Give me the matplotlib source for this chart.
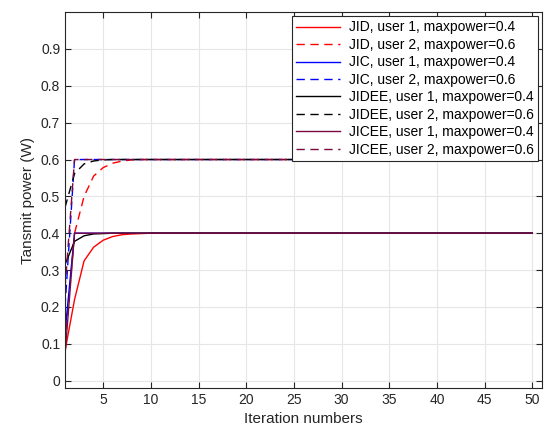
import numpy as np
import matplotlib.pyplot as plt

plt.rcParams['font.family'] = ['Liberation Sans', 'DejaVu Sans']

iters = np.arange(1, 51)

# transmit power per iteration (W), settles at the per-user max power
jid_u1 = [0.08, 0.22, 0.325, 0.362, 0.381, 0.391, 0.396, 0.398, 0.399] + [0.4] * 41
jid_u2 = [0.10, 0.40, 0.50, 0.555, 0.578, 0.590, 0.596, 0.599] + [0.6] * 42
jic_u1 = [0.13] + [0.4] * 49
jic_u2 = [0.20] + [0.6] * 49
jidee_u1 = [0.315, 0.378, 0.393, 0.398, 0.399] + [0.4] * 45
jidee_u2 = [0.47, 0.562, 0.588, 0.596, 0.599] + [0.6] * 45
jicee_u1 = [0.07] + [0.4] * 49
jicee_u2 = [0.25] + [0.6] * 49

series = [
    (jid_u1, 'r-', 'JID, user 1, maxpower=0.4'),
    (jid_u2, 'r--', 'JID, user 2, maxpower=0.6'),
    (jic_u1, 'b-', 'JIC, user 1, maxpower=0.4'),
    (jic_u2, 'b--', 'JIC, user 2, maxpower=0.6'),
    (jidee_u1, 'k-', 'JIDEE, user 1, maxpower=0.4'),
    (jidee_u2, 'k--', 'JIDEE, user 2, maxpower=0.6'),
    (jicee_u1, '-', 'JICEE, user 1, maxpower=0.4'),
    (jicee_u2, '--', 'JICEE, user 2, maxpower=0.6'),
]

fig = plt.figure(figsize=(5.59, 4.33), dpi=100)
ax = fig.add_axes([0.1163, 0.104, 0.853, 0.868])

for vals, style, name in series:
    kw = {}
    if 'JICEE' in name:
        kw['color'] = '#7a0a3e'
    ax.plot(iters, vals, style, linewidth=1.0, label=name, dashes=(6, 4) if '--' in style else (None, None), **kw)

ax.set_xlim(1, 51)
ax.set_ylim(-0.02, 1.0)
ax.set_xticks(np.arange(5, 51, 5))
ax.set_yticks(np.arange(0, 0.91, 0.1))
ax.set_yticklabels(['0', '0.1', '0.2', '0.3', '0.4', '0.5', '0.6', '0.7', '0.8', '0.9'])
ax.tick_params(direction='in', top=True, right=True, labelsize=10, colors='#262626', length=4, width=0.8)
ax.grid(True, color='#e6e6e6', linewidth=0.8)
ax.set_axisbelow(True)
for s in ax.spines.values():
    s.set_color('#262626')
    s.set_linewidth(0.8)

ax.set_xlabel('Iteration numbers', fontsize=11, color='#262626')
ax.set_ylabel('Tansmit power (W)', fontsize=11, color='#262626')

leg = ax.legend(loc='upper right', fontsize=10, handlelength=3.2, handletextpad=0.6,
                labelspacing=0.25, borderpad=0.3, borderaxespad=0.3, fancybox=False, framealpha=1)
leg.get_frame().set_edgecolor('#262626')
leg.get_frame().set_linewidth(0.8)

fig.savefig('out.png', dpi=100)
